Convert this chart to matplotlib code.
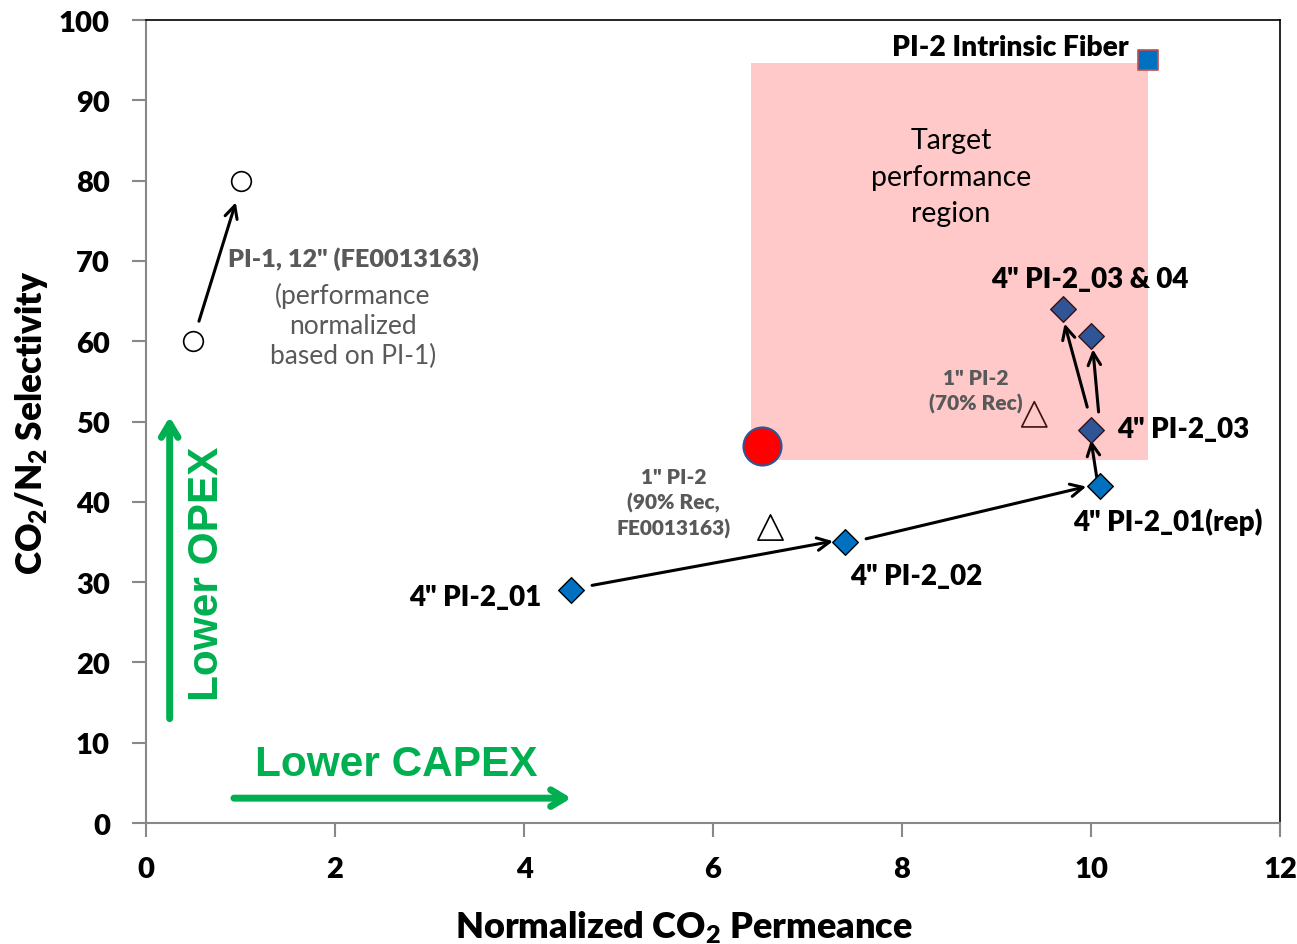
import matplotlib
matplotlib.use("Agg")
import matplotlib.pyplot as plt
from matplotlib.patches import Rectangle

plt.rcParams['font.family'] = ['Lato', 'DejaVu Sans']
plt.rcParams['mathtext.default'] = 'regular'

# Data
pi1_x = [0.5, 1.0]
pi1_y = [60, 80]
pi2_01_x = [4.5, 7.4, 10.1]
pi2_01_y = [29, 35, 42]
pi2_03_x = [10.0, 9.7, 10.0]
pi2_03_y = [49, 64, 60.7]
fiber_x = [10.6]
fiber_y = [95]
target_x = [6.52]
target_y = [46.9]
tri_x = [6.6, 9.4]
tri_y = [36.9, 50.9]
region_x = [6.4, 10.6]
region_y = [45.2, 94.7]
xticks = [0, 2, 4, 6, 8, 10, 12]
yticks = [0, 10, 20, 30, 40, 50, 60, 70, 80, 90, 100]

# arrows (start, end)
arrows = [
    ((0.56, 62.5), (0.95, 77.3)),
    ((4.72, 29.6), (7.27, 35.1)),
    ((7.62, 35.4), (9.95, 41.9)),
    ((10.06, 43.1), (10.0, 47.7)),
    ((9.96, 51.8), (9.72, 62.2)),
    ((10.08, 51.2), (10.02, 59.0)),
]

BW = 'heavy'

fig = plt.figure(figsize=(12.97, 9.45), dpi=100)
ax = fig.add_axes([0.1126, 0.128, 0.8743, 0.8497])
ax.set_xlim(0, 12)
ax.set_ylim(0, 100)

ax.add_patch(Rectangle((region_x[0], region_y[0]), region_x[1] - region_x[0],
                       region_y[1] - region_y[0], facecolor='#ffc9c9', edgecolor='none', zorder=1))

for (s, e) in arrows:
    ax.annotate('', xy=e, xytext=s,
                arrowprops=dict(arrowstyle='->,head_length=0.9,head_width=0.45', lw=2.2, color='black',
                                shrinkA=0, shrinkB=0), zorder=3)

ax.scatter(pi1_x, pi1_y, s=200, facecolor='white', edgecolor='black', lw=1.2, zorder=4)
ax.scatter(pi2_01_x, pi2_01_y, marker='D', s=170, facecolor='#0070c0', edgecolor='black', lw=1.0, zorder=4)
ax.scatter(pi2_03_x, pi2_03_y, marker='D', s=170, facecolor='#2f5597', edgecolor='#3a1010', lw=1.0, zorder=4)
ax.scatter(fiber_x, fiber_y, marker='s', s=200, facecolor='#0070c0', edgecolor='#c0504d', lw=1.2, zorder=4)
ax.scatter(target_x, target_y, s=750, facecolor='#ff0000', edgecolor='#2f5597', lw=1.5, zorder=4)
ax.scatter([tri_x[0]], [tri_y[0]], marker='^', s=330, facecolor='white', edgecolor='black', lw=1.2, zorder=4)
ax.scatter([tri_x[1]], [tri_y[1]], marker='^', s=330, facecolor='none', edgecolor='#3a1010', lw=1.2, zorder=5)

# Green arrows
green = '#00b050'
ax.annotate('', xy=(4.5, 3.1), xytext=(0.93, 3.1),
            arrowprops=dict(arrowstyle='->,head_length=1.0,head_width=0.6', lw=5, color=green,
                            shrinkA=0, shrinkB=0))
ax.annotate('', xy=(0.25, 50.6), xytext=(0.25, 13),
            arrowprops=dict(arrowstyle='->,head_length=1.0,head_width=0.6', lw=5, color=green,
                            shrinkA=0, shrinkB=0))
ax.text(2.65, 7.3, 'Lower CAPEX', color=green, fontsize=30.5, fontweight='bold',
        family=['Liberation Sans', 'DejaVu Sans'], ha='center', va='center')
ax.text(0.65, 31.2, 'Lower OPEX', color=green, fontsize=30.5, fontweight='bold',
        family=['Liberation Sans', 'DejaVu Sans'], ha='center', va='center', rotation=90)

# Labels
ax.text(10.4, 96.6, 'PI-2 Intrinsic Fiber', fontsize=20.3, fontweight=BW, ha='right', va='center')
ax.text(8.52, 80.5, 'Target\nperformance\nregion', fontsize=20.5, ha='center', va='center', linespacing=1.5)
ax.text(9.99, 67.8, '4" PI-2_03 & 04', fontsize=20, fontweight=BW, ha='center', va='center')
ax.text(10.28, 49.1, '4" PI-2_03', fontsize=20, fontweight=BW, ha='left', va='center')
ax.text(10.81, 37.6, '4" PI-2_01(rep)', fontsize=20, fontweight=BW, ha='center', va='center')
ax.text(7.45, 30.8, '4" PI-2_02', fontsize=20, fontweight=BW, ha='left', va='center')
ax.text(4.18, 28.2, '4" PI-2_01', fontsize=20, fontweight=BW, ha='right', va='center')
gray = '#595959'
ax.text(8.78, 53.9, '1" PI-2\n(70% Rec)', fontsize=15, fontweight=BW, color=gray,
        ha='center', va='center', linespacing=1.35)
ax.text(5.58, 39.9, '1" PI-2\n(90% Rec,\nFE0013163)', fontsize=15, fontweight=BW, color=gray,
        ha='center', va='center', linespacing=1.35)
ax.text(2.19, 70.3, 'PI-1, 12" (FE0013163)', fontsize=18.2, fontweight=BW, color=gray,
        ha='center', va='center')
ax.text(2.19, 62.0, '(performance\nnormalized\nbased on PI-1)', fontsize=19, color=gray,
        ha='center', va='center', linespacing=1.25)

ax.set_xticks(xticks)
ax.set_xticklabels([str(v) for v in xticks], fontsize=21, fontweight=BW)
ax.set_yticks(yticks)
ax.set_yticklabels([str(v) for v in yticks], fontsize=21, fontweight=BW)
ax.tick_params(axis='x', direction='out', length=10, color='#888888', width=1.5, pad=14)
ax.tick_params(axis='y', direction='out', length=10, color='#888888', width=1.5, pad=16)
ax.spines['left'].set_color('#888888')
ax.spines['bottom'].set_color('#888888')
for sp in ['left', 'bottom']:
    ax.spines[sp].set_linewidth(1.5)
for sp in ['top', 'right']:
    ax.spines[sp].set_linewidth(1.2)
    ax.spines[sp].set_color('black')

ax.set_xlabel('Normalized CO$_2$ Permeance', fontsize=26, fontweight=BW)
ax.xaxis.set_label_coords(0.474, -0.106)
ax.set_ylabel('CO$_2$/N$_2$ Selectivity', fontsize=25.3, fontweight=BW)
ax.yaxis.set_label_coords(-0.085, 0.5)

fig.savefig('out.png', dpi=100)
